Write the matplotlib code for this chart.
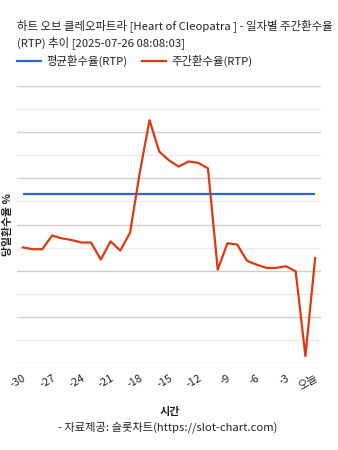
import matplotlib
matplotlib.use("Agg")
import matplotlib.pyplot as plt
import numpy as np

plt.rcParams['font.family'] = ['Noto Sans CJK KR', 'DejaVu Sans']

# data (no y tick labels shown, arbitrary units)
days = list(range(-30, 1))
weekly_rtp = [5.01, 4.93, 4.93, 5.52, 5.40, 5.33, 5.22, 5.22, 4.48, 5.27,
              4.87, 5.64, 8.25, 10.52, 9.16, 8.78, 8.51, 8.73, 8.67, 8.43,
              4.04, 5.19, 5.13, 4.43, 4.26, 4.12, 4.12, 4.19, 3.97, 0.30,
              4.55]
avg_rtp = 7.30
tick_days = list(range(-30, 1, 3))
tick_labels = [str(d) for d in tick_days[:-1]] + ['오늘']

blue = '#3366cc'
red = '#dc3912'
txt = '#222222'

fig = plt.figure(figsize=(3.38, 4.5), dpi=100)
ax = fig.add_axes([17/338, 87/450, 304/338, 277/450])

# grid lines: major every 2, minor every 1
for v in np.arange(0, 12.01, 1):
    col = '#cccccc' if int(v) % 2 == 0 else '#ebebeb'
    ax.axhline(v, color=col, lw=1, zorder=0)

ax.plot(days, [avg_rtp] * len(days), color=blue, lw=1.6, solid_capstyle='butt', zorder=2)
ax.plot(days, weekly_rtp, color=red, lw=1.6, zorder=3)

ax.set_xlim(-30.6, 0.6)
ax.set_ylim(0, 12)
for s in ax.spines.values():
    s.set_visible(False)
ax.set_yticks([])
ax.set_xticks(tick_days)
ax.set_xticklabels(tick_labels, rotation=30, ha='right', rotation_mode='anchor', fontsize=8)
ax.tick_params(axis='x', length=0, pad=7, colors=txt)

fig.text(8/338, 1 - 225/450, '당일환수율 %', rotation=90, ha='center', va='center',
         fontsize=7.8, fontweight='bold', color=txt)
fig.text(170/338, 1 - 411/450, '시간', ha='center', va='center',
         fontsize=8, fontweight='bold', color=txt)
fig.text(168/338, 1 - 427/450, '- 자료제공: 슬롯차트(https://slot-chart.com)', ha='center', va='center',
         fontsize=8.1, fontweight='medium', color=txt)

# title
fig.text(17/338, 1 - 26/450, '하트 오브 클레오파트라 [Heart of Cleopatra ] - 일자별 주간환수율',
         ha='left', va='center', fontsize=8.2, fontweight='medium', color=txt)
fig.text(17/338, 1 - 43/450, '(RTP) 추이 [2025-07-26 08:08:03]',
         ha='left', va='center', fontsize=8.2, fontweight='medium', color=txt)

# legend
ly = 1 - 61/450
fig.add_artist(plt.Line2D([17/338, 41/338], [ly, ly], color=blue, lw=1.6))
fig.text(46/338, ly, '평균환수율(RTP)', ha='left', va='center', fontsize=8.2, fontweight='medium', color=txt)
fig.add_artist(plt.Line2D([142/338, 166/338], [ly, ly], color=red, lw=1.6))
fig.text(171/338, ly, '주간환수율(RTP)', ha='left', va='center', fontsize=8.2, fontweight='medium', color=txt)

fig.savefig('out.png', dpi=100)
